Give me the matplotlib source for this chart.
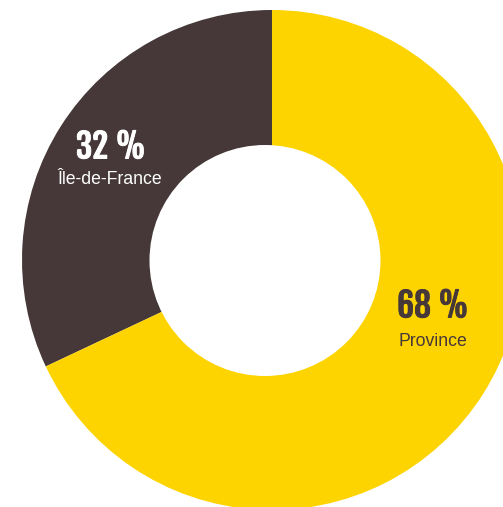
import matplotlib
matplotlib.use("Agg")
import matplotlib.pyplot as plt
from matplotlib.patches import Circle
import matplotlib.patheffects as pe

categories = ["Île-de-France", "Province"]
values = [32, 68]
pct_labels = ["32 %", "68 %"]
colors = ["#463839", "#FDD300"]

W, H = 503, 507
fig = plt.figure(figsize=(W / 100, H / 100), dpi=100)
ax = fig.add_axes([0, 0, 1, 1])

cx, cy, R = 272, H - 260, 250
ax.pie(values, colors=colors, startangle=90, counterclock=True,
       center=(cx, cy), radius=R, frame=True,
       wedgeprops=dict(linewidth=0, antialiased=True))
ax.set_xlim(0, W)
ax.set_ylim(0, H)
ax.set_aspect("equal")
ax.axis("off")
ax.add_patch(Circle((265, H - 260.5), 115.5, facecolor="white", edgecolor="none", zorder=3))

big = dict(family=["Fjalla One", "DejaVu Sans"],
           fontsize=24, ha="center", va="center", zorder=5)
small = dict(family="Liberation Sans", fontsize=12.7, ha="center", va="center", zorder=5)

t1 = ax.text(111, H - 147, pct_labels[0], color="white", **big)
t1.set_path_effects([pe.withStroke(linewidth=0.7, foreground="white")])
ax.text(110, H - 180, categories[0], color="white", **small)
t2 = ax.text(433, H - 306, pct_labels[1], color="#463839", **big)
t2.set_path_effects([pe.withStroke(linewidth=0.7, foreground="#463839")])
ax.text(433, H - 342, categories[1], color="#463839", **small)

fig.savefig("out.png", dpi=100)
